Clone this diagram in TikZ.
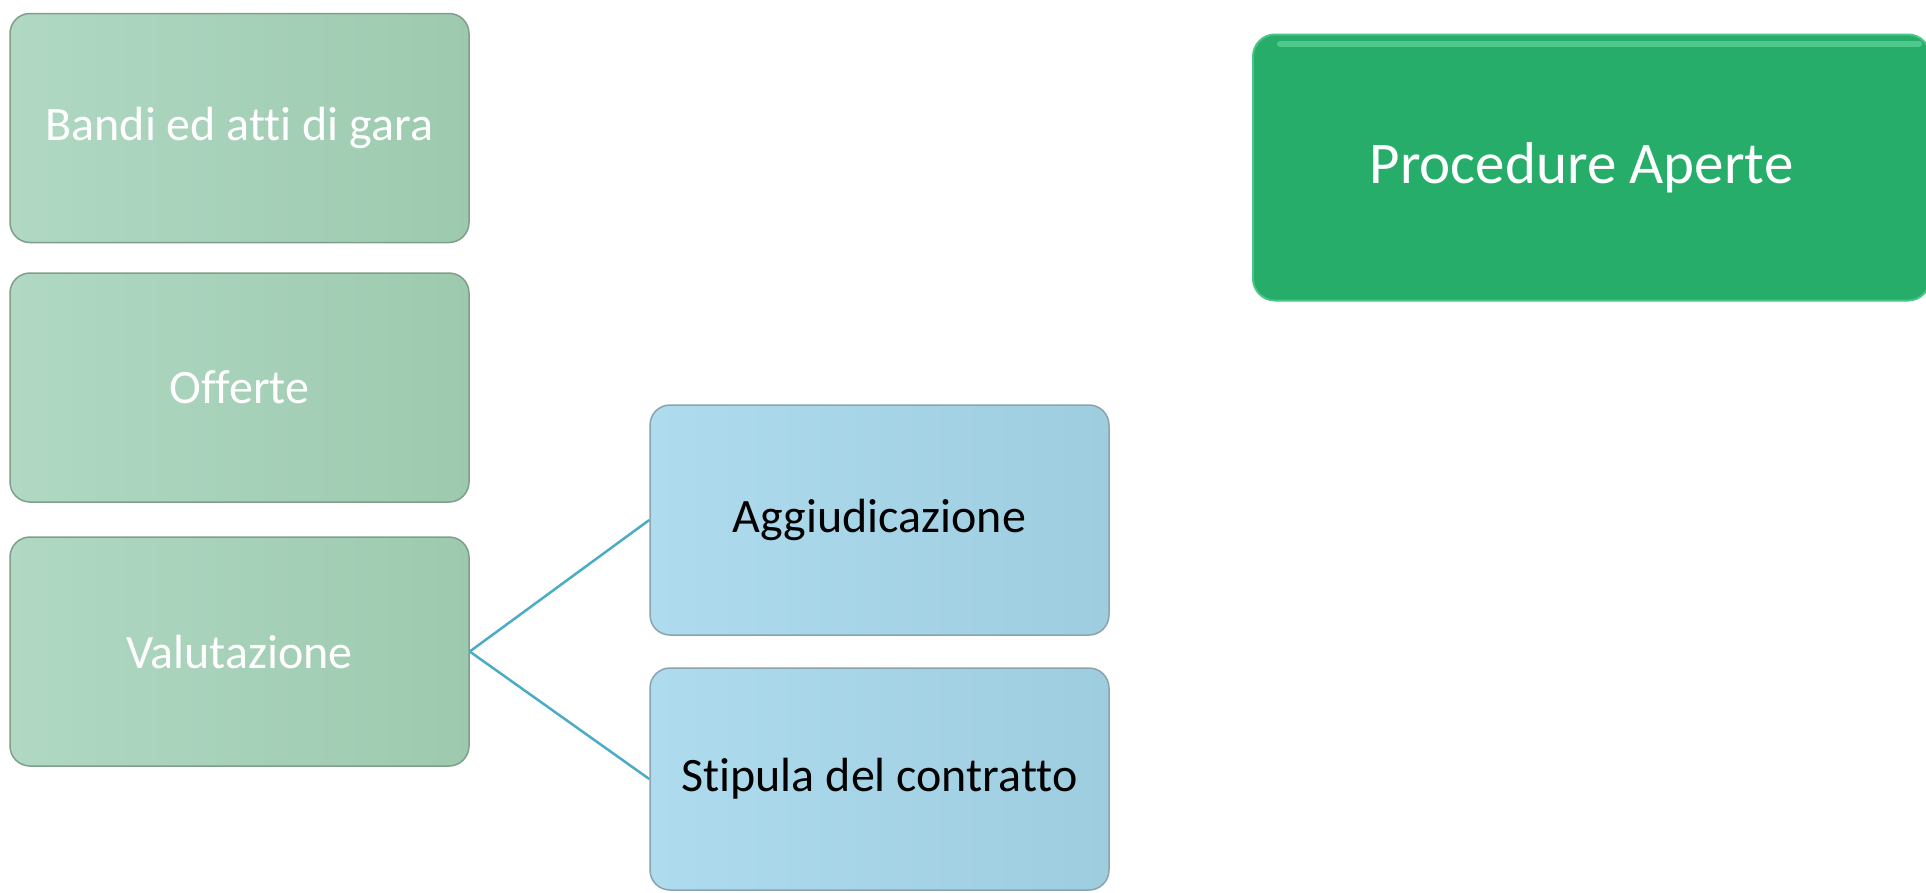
\documentclass[tikz,border=0pt]{standalone}
\usepackage{fontspec}
\setmainfont{Carlito}[Ligatures=NoCommon]
\definecolor{gL}{HTML}{B0D8C3}
\definecolor{gR}{HTML}{9DCAAF}
\definecolor{gB}{HTML}{7F9E8C}
\definecolor{bL}{HTML}{AEDBEE}
\definecolor{bR}{HTML}{9FCDE0}
\definecolor{bB}{HTML}{8AA3AE}
\definecolor{bigG}{HTML}{27AD6A}
\definecolor{bigHi}{HTML}{5FD49A}
\definecolor{lineC}{HTML}{4BACC6}
\begin{document}
\begin{tikzpicture}[x=1pt,y=-1pt,
  greenbox/.style={rectangle, rounded corners=20pt, draw=gB, line width=1.5pt,
    left color=gL, right color=gR, minimum width=459pt, minimum height=229pt,
    text=white, font=\fontsize{48}{57}\selectfont, inner sep=0pt},
  bluebox/.style={rectangle, rounded corners=20pt, draw=bB, line width=1.5pt,
    left color=bL, right color=bR, minimum width=459pt, minimum height=230pt,
    text=black, font=\fontsize{48}{57}\selectfont, inner sep=0pt},
  bigbox/.style={rectangle, rounded corners=22pt, draw=bigHi!60!bigG, line width=2pt,
    fill=bigG, minimum width=677pt, minimum height=266pt,
    text=white, font=\fontsize{59}{70}\selectfont, inner sep=0pt},
  link/.style={draw=lineC, line width=2.5pt}]
\useasboundingbox (0,0) rectangle (1926,892);
\clip (0,0) rectangle (1926,892);
\node[greenbox] (bandi) at (239.5,128) {Bandi ed atti di gara};
\node[greenbox] (offerte) at (239.5,387.5) {Offerte};
\node[greenbox] (valut) at (239.5,651.5) {Valutazione};
\node[bluebox] (aggiud) at (879.5,520) {Aggiudicazione};
\node[bluebox, minimum height=222pt] (stipula) at (879.5,779) {Stipula del contratto};
\node[bigbox] (proc) at (1591.5,167.5) {\hspace*{-20pt}Procedure Aperte};
\draw[bigHi, opacity=0.7, line width=6pt, line cap=round] ([xshift=28pt,yshift=-10pt]proc.north west) -- ([xshift=-12pt,yshift=-10pt]proc.north east);
\draw[link] (valut.east) -- (aggiud.west);
\draw[link] (valut.east) -- (stipula.west);
\end{tikzpicture}
\end{document}
